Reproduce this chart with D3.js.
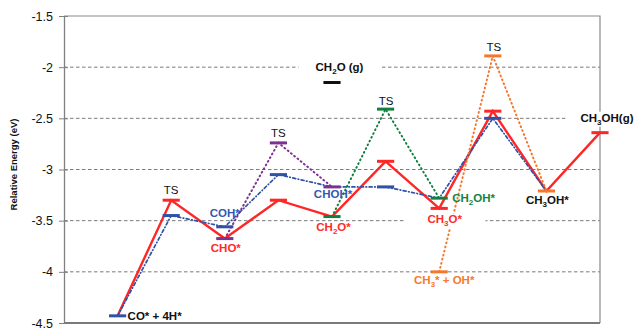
<!DOCTYPE html>
<html>
<head>
<meta charset="utf-8">
<script src="https://cdn.jsdelivr.net/npm/d3@7"></script>
<style>
  body { margin: 0; background: #fff; }
  svg { display: block; font-family: "Liberation Sans", Arial, sans-serif; }
</style>
</head>
<body>
<svg></svg>
<script>
// chart data

var yTicks = [-1.5, -2, -2.5, -3, -3.5, -4, -4.5];
var gridTicks = [-2, -2.5, -3, -3.5, -4];

// reaction paths: stage index (1..10) and relative energy
var redStages = [1, 2, 3, 4, 5, 6, 7, 8, 9, 10];
var redEnergy = [-4.43, -3.30, -3.675, -3.30, -3.46, -2.92, -3.38, -2.43, -3.21, -2.64];

var blueStages = [1, 2, 3, 4, 5, 6, 7, 8, 9];
var blueEnergy = [-4.43, -3.45, -3.56, -3.05, -3.17, -3.17, -3.28, -2.50, -3.21];

var purpleStages = [3, 4, 5];
var purpleEnergy = [-3.675, -2.74, -3.17];

var greenStages = [5, 6, 7];
var greenEnergy = [-3.46, -2.41, -3.28];

var orangeStages = [7, 8, 9];
var orangeEnergy = [-4.0, -1.89, -3.21];

// energy levels (short bars): [stage, energy, colour key]
var levels = [
	[2, -3.30, 'red'], [4, -3.30, 'red'], [6, -2.92, 'red'], [7, -3.38, 'red'],
	[8, -2.43, 'red'], [10, -2.64, 'red'],
	[1, -4.43, 'blue'], [2, -3.45, 'blue'], [3, -3.56, 'blue'], [4, -3.05, 'blue'],
	[6, -3.17, 'blue'], [8, -2.50, 'blue'],
	[3, -3.675, 'purple'], [4, -2.74, 'purple'], [5, -3.17, 'purple'],
	[5, -3.46, 'green'], [6, -2.41, 'green'], [7, -3.28, 'green'],
	[7, -4.0, 'orange'], [8, -1.89, 'orange'], [9, -3.21, 'orange'],
	[5, -2.15, 'black']
];

// labels: [text ("_" = next char subscript), stage, energy, colour key, bold]
var labels = [
	['CO* + 4H*', 1, -4.43, 'black', true],
	['TS', 2, -3.30, 'black', false],
	['COH*', 3, -3.56, 'blueText', true],
	['CHO*', 3, -3.675, 'redText', true],
	['TS', 4, -2.74, 'black', false],
	['CHOH*', 5, -3.17, 'blueText', true],
	['CH_2O*', 5, -3.46, 'redText', true],
	['CH_2O (g)', 5, -2.15, 'black', true],
	['TS', 6, -2.41, 'black', false],
	['CH_2OH*', 7, -3.28, 'greenText', true],
	['CH_3O*', 7, -3.38, 'redText', true],
	['CH_3* + OH*', 7, -4.0, 'orangeText', true],
	['TS', 8, -1.89, 'black', false],
	['CH_3OH*', 9, -3.21, 'black', true],
	['CH_3OH(g)', 10, -2.64, 'black', true]
];

// label placement: [dx, dy, anchor, white box left pad, right pad] (pad null = no box)
var labelPlace = [
	[10, 4, 'start', null, null],
	[0, -6.5, 'middle', null, null],
	[0, -10, 'middle', null, null],
	[1, 13.5, 'middle', null, null],
	[0, -6, 'middle', null, null],
	[1, 11, 'middle', null, null],
	[1.5, 14.5, 'middle', null, null],
	[7.5, -12, 'middle', 17, 18],
	[0.5, -4.5, 'middle', null, null],
	[13, 4, 'start', null, null],
	[5.5, 15, 'middle', 23, 23],
	[5, 12.5, 'middle', null, null],
	[1, -5, 'middle', null, null],
	[1, 13, 'middle', null, null],
	[7, -11, 'middle', 15, 10]
];

var colors = {
	red: '#ff2626',
	blue: '#2f52a8',
	purple: '#7d3190',
	green: '#11803f',
	orange: '#f5772e',
	black: '#111',
	redText: '#ff2a2a',
	blueText: '#3558b0',
	greenText: '#13843f',
	orangeText: '#f47a2c'
};

// svg measurements
var width = 634,
	height = 328,
	plotLeft = 64,
	plotRight = 600,
	plotTop = 16,
	plotBottom = 323;

var xScale = d3.scaleLinear()
				.domain([0, 10])
				.range([plotLeft, plotRight]);

var yScale = d3.scaleLinear()
				.domain([-4.5, -1.5])
				.range([plotBottom, plotTop]);

var svg = d3.select('svg')
			.attr('width', width)
			.attr('height', height);

// gridlines
svg.append('g')
	.selectAll('line')
	.data(gridTicks)
	.enter()
	.append('line')
		.attr('x1', plotLeft)
		.attr('x2', plotRight)
		.attr('y1', d => yScale(d))
		.attr('y2', d => yScale(d))
		.attr('stroke', '#7a7a7a')
		.attr('stroke-width', 1)
		.attr('stroke-dasharray', '3.5,2.5');

// frame (top, right)
svg.append('path')
	.attr('d', 'M' + plotLeft + ',' + yScale(-1.5) + 'H' + plotRight + 'V' + yScale(-4.5))
	.attr('fill', 'none')
	.attr('stroke', '#8a8a8a')
	.attr('stroke-width', 1.2);

// y axis
var yAxis = d3.axisLeft(yScale)
			  .tickValues(yTicks)
			  .tickSizeInner(5)
			  .tickSizeOuter(0)
			  .tickPadding(6);

var gy = svg.append('g')
	.attr('transform', 'translate(' + plotLeft + ',0)')
	.call(yAxis);

gy.select('.domain').attr('stroke', '#808080').attr('stroke-width', 1.3);
gy.selectAll('.tick line').attr('x1', 4).attr('x2', -5).attr('stroke', '#808080');
gy.selectAll('.tick text')
	.style('font-size', '12.5px')
	.style('font-family', '"Liberation Sans", Arial, sans-serif')
	.attr('fill', '#111')
	.text(d => String(d));

// bottom axis
svg.append('line')
	.attr('x1', plotLeft)
	.attr('x2', plotRight)
	.attr('y1', yScale(-4.5))
	.attr('y2', yScale(-4.5))
	.attr('stroke', '#7a7a7a')
	.attr('stroke-width', 2);

// axis title
svg.append('text')
	.attr('transform', 'translate(17,' + ((plotTop + plotBottom) / 2 - 5) + ') rotate(-90)')
	.style('text-anchor', 'middle')
	.style('font-size', '9.5px')
	.style('font-weight', 'bold')
	.attr('fill', '#111')
	.text('Relative Energy (eV)');

// reaction paths
var line = d3.line()
	.x(d => xScale(d[0]))
	.y(d => yScale(d[1]));

function drawPath(stages, energy, color, widthPx, dash) {
	svg.append('path')
		.datum(d3.zip(stages, energy))
		.attr('d', line)
		.attr('fill', 'none')
		.attr('stroke', color)
		.attr('stroke-width', widthPx)
		.attr('stroke-dasharray', dash)
		.attr('stroke-linecap', dash ? 'round' : 'butt');
}

drawPath(redStages, redEnergy, colors.red, 2.4, null);
drawPath(blueStages, blueEnergy, colors.blue, 1.7, '3,2.5,0.6,2.5');
drawPath(purpleStages, purpleEnergy, colors.purple, 2, '0.8,3.4');
drawPath(greenStages, greenEnergy, colors.green, 2, '0.8,3.4');
drawPath(orangeStages, orangeEnergy, colors.orange, 2, '0.8,3.4');

// energy level bars
var half = 0.16;
svg.append('g')
	.selectAll('line')
	.data(levels)
	.enter()
	.append('line')
		.attr('x1', d => xScale(d[0] - half))
		.attr('x2', d => xScale(d[0] + half))
		.attr('y1', d => yScale(d[1]))
		.attr('y2', d => yScale(d[1]))
		.attr('stroke', d => colors[d[2]])
		.attr('stroke-width', 3);

// labels
var lg = svg.append('g');
labels.forEach(function(l, i) {
	var p = labelPlace[i];
	var g = lg.append('g');
	var t = g.append('text')
		.attr('x', xScale(l[1]) + p[0])
		.attr('y', yScale(l[2]) + p[1])
		.style('text-anchor', p[2])
		.style('font-size', '11.5px')
		.style('font-weight', l[4] ? 'bold' : 'normal')
		.attr('fill', colors[l[3]]);
	var parts = l[0].split('_');
	t.append('tspan').text(parts[0]);
	for (var k = 1; k < parts.length; k++) {
		t.append('tspan')
			.attr('dy', 3)
			.style('font-size', '8px')
			.text(parts[k].charAt(0));
		t.append('tspan')
			.attr('dy', -3)
			.text(parts[k].slice(1));
	}
	if (p[3] !== null) {
		var b = t.node().getBBox();
		g.insert('rect', 'text')
			.attr('x', b.x - p[3])
			.attr('y', b.y)
			.attr('width', b.width + p[3] + p[4])
			.attr('height', b.height)
			.attr('fill', '#fff');
	}
});
</script>
</body>
</html>
